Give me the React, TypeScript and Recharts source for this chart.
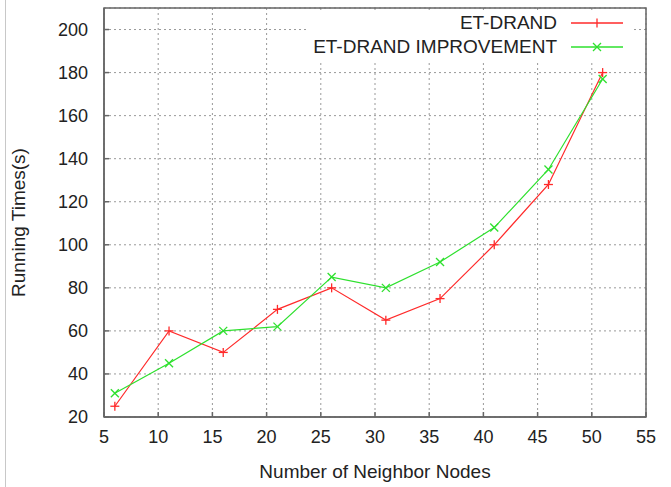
import React from "react";
import {
  CartesianGrid,
  Line,
  LineChart,
  ReferenceArea,
  XAxis,
  YAxis,
} from "recharts";

const neighborNodes = [6, 11, 16, 21, 26, 31, 36, 41, 46, 51];
const etDrand = [25, 60, 50, 70, 80, 65, 75, 100, 128, 180];
const etDrandImprovement = [31, 45, 60, 62, 85, 80, 92, 108, 135, 177];
const xTicks = [5, 10, 15, 20, 25, 30, 35, 40, 45, 50, 55];
const yTicks = [20, 40, 60, 80, 100, 120, 140, 160, 180, 200];
const seriesNames = ["ET-DRAND", "ET-DRAND IMPROVEMENT"];

const data = neighborNodes.map((n, i) => ({
  n,
  a: etDrand[i],
  b: etDrandImprovement[i],
}));

const RED = "#ff2a2a";
const GREEN = "#2ee02e";
const FONT = "'Liberation Sans', Arial, Helvetica, sans-serif";

function Plus(props: any) {
  const { cx, cy } = props;
  if (cx == null || cy == null) return null;
  return (
    <g stroke={RED} strokeWidth={1.3}>
      <line x1={cx - 4.5} y1={cy} x2={cx + 4.5} y2={cy} />
      <line x1={cx} y1={cy - 4.5} x2={cx} y2={cy + 4.5} />
    </g>
  );
}

function Cross(props: any) {
  const { cx, cy } = props;
  if (cx == null || cy == null) return null;
  return (
    <g stroke={GREEN} strokeWidth={1.3}>
      <line x1={cx - 4} y1={cy - 4} x2={cx + 4} y2={cy + 4} />
      <line x1={cx - 4} y1={cy + 4} x2={cx + 4} y2={cy - 4} />
    </g>
  );
}

// gnuplot-style key box, white so the grid stops behind it
function LegendBox() {
  const rows = [
    { name: seriesNames[0], color: RED, marker: "plus" },
    { name: seriesNames[1], color: GREEN, marker: "cross" },
  ];
  return (
    <div
      style={{
        position: "absolute",
        top: 10,
        right: 38,
        padding: "1px 10px 3px 6px",
        background: "#fff",
        fontFamily: FONT,
        fontSize: 19,
        color: "#222",
      }}
    >
      {rows.map((r) => (
        <div
          key={r.name}
          style={{
            display: "flex",
            justifyContent: "flex-end",
            alignItems: "center",
            height: 24,
          }}
        >
          <span style={{ marginRight: 14 }}>{r.name}</span>
          <svg width={52} height={12}>
            <line x1={0} y1={6} x2={52} y2={6} stroke={r.color} strokeWidth={1.3} />
            {r.marker === "plus" ? (
              <g stroke={r.color} strokeWidth={1.3}>
                <line x1={26} y1={1.5} x2={26} y2={10.5} />
              </g>
            ) : (
              <g stroke={r.color} strokeWidth={1.3}>
                <line x1={22} y1={2} x2={30} y2={10} />
                <line x1={22} y1={10} x2={30} y2={2} />
              </g>
            )}
          </svg>
        </div>
      ))}
    </div>
  );
}

export default function App() {
  const tickStyle = { fontFamily: FONT, fontSize: 18, fill: "#222" };
  return (
    <div
      style={{
        position: "absolute",
        left: 0,
        top: 0,
        width: 671,
        height: 487,
        background: "#fff",
      }}
    >
      <div
        style={{
          position: "absolute",
          left: 5,
          top: 0,
          width: 0,
          height: 487,
          borderLeft: "1px solid #c8c8c8",
        }}
      />
      <LineChart
        width={671}
        height={487}
        data={data}
        margin={{ top: 8, right: 25, left: 0, bottom: 0 }}
      >
        <CartesianGrid stroke="#999" strokeDasharray="2 3" />
        <XAxis
          dataKey="n"
          type="number"
          domain={[5, 55]}
          ticks={xTicks}
          height={70}
          stroke="#666"
          strokeWidth={1.5}
          tickSize={-5}
          tickMargin={18}
          tick={tickStyle}
          label={{
            content: ({ viewBox }: any) => (
              <text
                x={viewBox.x + viewBox.width / 2}
                y={473}
                textAnchor="middle"
                dominantBaseline="middle"
                style={{ fontFamily: FONT, fontSize: 19, fill: "#222" }}
              >
                Number of Neighbor Nodes
              </text>
            ),
          }}
        />
        <YAxis
          type="number"
          domain={[20, 210]}
          ticks={yTicks}
          width={104}
          stroke="#666"
          strokeWidth={1.5}
          tickSize={-5}
          tickMargin={21}
          tick={tickStyle}
          label={{
            content: ({ viewBox }: any) => {
              const cy = viewBox.y + viewBox.height / 2 + 10;
              return (
                <text
                  x={20}
                  y={cy}
                  transform={`rotate(-90 20 ${cy})`}
                  textAnchor="middle"
                  dominantBaseline="middle"
                  style={{ fontFamily: FONT, fontSize: 19, fill: "#222" }}
                >
                  Running Times(s)
                </text>
              );
            },
          }}
        />
        <ReferenceArea
          x1={5}
          x2={55}
          y1={20}
          y2={210}
          fill="none"
          fillOpacity={0}
          stroke="#666"
          strokeWidth={1.5}
        />
        <Line
          dataKey="a"
          name={seriesNames[0]}
          stroke={RED}
          strokeWidth={1.2}
          dot={<Plus />}
          activeDot={false}
          isAnimationActive={false}
        />
        <Line
          dataKey="b"
          name={seriesNames[1]}
          stroke={GREEN}
          strokeWidth={1.2}
          dot={<Cross />}
          activeDot={false}
          isAnimationActive={false}
        />
      </LineChart>
      <LegendBox />
    </div>
  );
}
